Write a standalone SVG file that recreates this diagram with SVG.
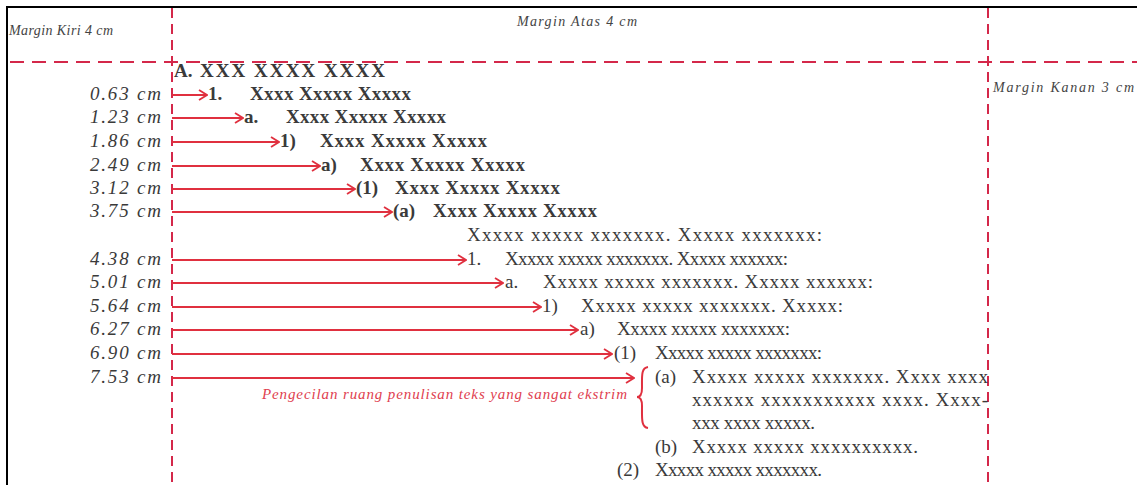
<svg xmlns="http://www.w3.org/2000/svg" width="1137" height="485" viewBox="0 0 1137 485">
<style>
.t{font-family:"Liberation Serif","Times New Roman",serif;font-size:19px;fill:#3a3a3a}
.b{font-weight:bold}
.lbl{font-family:"Liberation Serif","Times New Roman",serif;font-size:19px;font-style:italic;fill:#3a3a3a}
.m{font-family:"Liberation Serif","Times New Roman",serif;font-size:14px;font-style:italic;fill:#444}
.r{font-family:"Liberation Serif","Times New Roman",serif;font-size:15px;font-style:italic;fill:#e0404f}
.dash{stroke:#d4284a;stroke-width:2;fill:none}
.arr{stroke:#e0303f;stroke-width:2;fill:none}
</style>
<defs>
<marker id="ah" viewBox="0 0 10 12" refX="9" refY="6" markerWidth="10" markerHeight="12" markerUnits="userSpaceOnUse" orient="auto">
<path d="M1,1 L9,6 L1,11" fill="none" stroke="#e0303f" stroke-width="1.8"/>
</marker>
</defs>
<rect width="1137" height="485" fill="#fff"/>
<g id="frame">
<path d="M7,485 V7 H1137" stroke="#000" stroke-width="2" fill="none"/>
</g>
<g id="margins">
<line class="dash" x1="10" y1="62" x2="1137" y2="62" stroke-dasharray="14 8"/>
<line class="dash" x1="172" y1="8" x2="172" y2="485" stroke-dasharray="10 6"/>
<line class="dash" x1="988" y1="8" x2="988" y2="485" stroke-dasharray="10 6"/>
<text class="m" x="9" y="35" textLength="104">Margin Kiri 4 cm</text>
<text class="m" x="517" y="26" textLength="120">Margin Atas 4 cm</text>
<text class="m" x="993" y="92" textLength="141">Margin Kanan 3 cm</text>
</g>
<g id="labels">
<text class="lbl" x="90" y="100" textLength="71">0.63 cm</text>
<text class="lbl" x="90" y="123" textLength="71">1.23 cm</text>
<text class="lbl" x="90" y="147" textLength="71">1.86 cm</text>
<text class="lbl" x="90" y="171" textLength="71">2.49 cm</text>
<text class="lbl" x="90" y="194" textLength="71">3.12 cm</text>
<text class="lbl" x="90" y="217" textLength="71">3.75 cm</text>
<text class="lbl" x="90" y="265" textLength="71">4.38 cm</text>
<text class="lbl" x="90" y="288" textLength="71">5.01 cm</text>
<text class="lbl" x="90" y="312" textLength="71">5.64 cm</text>
<text class="lbl" x="90" y="335" textLength="71">6.27 cm</text>
<text class="lbl" x="90" y="359" textLength="71">6.90 cm</text>
<text class="lbl" x="90" y="383" textLength="71">7.53 cm</text>
</g>
<g id="connectors">
<line class="arr" x1="172" y1="95" x2="207" y2="95" marker-end="url(#ah)"/>
<line class="arr" x1="172" y1="118" x2="243" y2="118" marker-end="url(#ah)"/>
<line class="arr" x1="172" y1="142" x2="279" y2="142" marker-end="url(#ah)"/>
<line class="arr" x1="172" y1="166" x2="320" y2="166" marker-end="url(#ah)"/>
<line class="arr" x1="172" y1="189" x2="355" y2="189" marker-end="url(#ah)"/>
<line class="arr" x1="172" y1="212" x2="392" y2="212" marker-end="url(#ah)"/>
<line class="arr" x1="172" y1="260" x2="466" y2="260" marker-end="url(#ah)"/>
<line class="arr" x1="172" y1="283" x2="503" y2="283" marker-end="url(#ah)"/>
<line class="arr" x1="172" y1="307" x2="541" y2="307" marker-end="url(#ah)"/>
<line class="arr" x1="172" y1="330" x2="578" y2="330" marker-end="url(#ah)"/>
<line class="arr" x1="172" y1="354" x2="612" y2="354" marker-end="url(#ah)"/>
<line class="arr" x1="172" y1="378" x2="634" y2="378" marker-end="url(#ah)"/>
<path class="arr" d="M648,367 C641,368 642,376 642,388 C642,394 640,397 637,397 C640,397 642,400 642,406 C642,418 641,427 648,428" stroke-width="1.6"/>
<text class="r" x="262" y="399" textLength="365">Pengecilan ruang penulisan teks yang sangat ekstrim</text>
</g>
<g id="row-A"><text class="t b" x="174" y="77">A.</text><text class="t b" x="200" y="77" textLength="185">XXX XXXX XXXX</text></g>
<g id="row-1"><text class="t b" x="208" y="100">1.</text><text class="t b" x="250" y="100" textLength="161">Xxxx Xxxxx Xxxxx</text></g>
<g id="row-a"><text class="t b" x="244" y="123">a.</text><text class="t b" x="286" y="123" textLength="160">Xxxx Xxxxx Xxxxx</text></g>
<g id="row-1p"><text class="t b" x="280" y="147">1)</text><text class="t b" x="320" y="147" textLength="167">Xxxx Xxxxx Xxxxx</text></g>
<g id="row-ap"><text class="t b" x="321" y="171">a)</text><text class="t b" x="360" y="171" textLength="165">Xxxx Xxxxx Xxxxx</text></g>
<g id="row-p1"><text class="t b" x="356" y="194">(1)</text><text class="t b" x="395" y="194" textLength="165">Xxxx Xxxxx Xxxxx</text></g>
<g id="row-pa"><text class="t b" x="393" y="217">(a)</text><text class="t b" x="433" y="217" textLength="164">Xxxx Xxxxx Xxxxx</text></g>
<g id="para"><text class="t" x="467" y="241" textLength="355">Xxxxx xxxxx xxxxxxx. Xxxxx xxxxxxx:</text></g>
<g id="row2-1"><text class="t" x="467" y="265">1.</text><text class="t" x="505" y="265" textLength="283">Xxxxx xxxxx xxxxxxx. Xxxxx xxxxxx:</text></g>
<g id="row2-a"><text class="t" x="505" y="288">a.</text><text class="t" x="543" y="288" textLength="330">Xxxxx xxxxx xxxxxxx. Xxxxx xxxxxx:</text></g>
<g id="row2-1p"><text class="t" x="542" y="312">1)</text><text class="t" x="581" y="312" textLength="262">Xxxxx xxxxx xxxxxxx. Xxxxx:</text></g>
<g id="row2-ap"><text class="t" x="580" y="335">a)</text><text class="t" x="617" y="335" textLength="173">Xxxxx xxxxx xxxxxxx:</text></g>
<g id="row2-p1"><text class="t" x="614" y="359">(1)</text><text class="t" x="655" y="359" textLength="167">Xxxxx xxxxx xxxxxxx:</text></g>
<g id="row2-pa"><text class="t" x="655" y="383">(a)</text><text class="t" x="692" y="383" textLength="296">Xxxxx xxxxx xxxxxxx. Xxxx xxxx</text><text class="t" x="692" y="406" textLength="296">xxxxxx xxxxxxxxxxx xxxx. Xxxx-</text><text class="t" x="692" y="429" textLength="123">xxx xxxx xxxxx.</text></g>
<g id="row2-pb"><text class="t" x="655" y="453">(b)</text><text class="t" x="692" y="453" textLength="226">Xxxxx xxxxx xxxxxxxxxx.</text></g>
<g id="row2-p2"><text class="t" x="617" y="476">(2)</text><text class="t" x="655" y="476" textLength="167">Xxxxx xxxxx xxxxxxx.</text></g>
</svg>
